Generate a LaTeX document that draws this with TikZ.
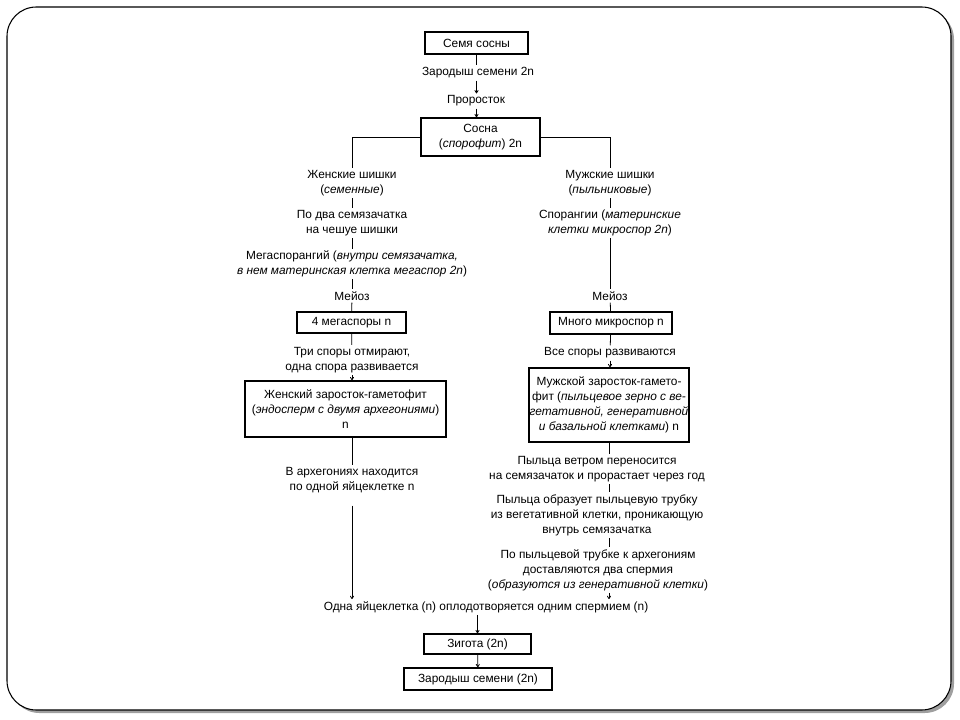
\documentclass[tikz,border=0pt]{standalone}
\usepackage{fontspec}
\setmainfont{Liberation Sans}
\usetikzlibrary{arrows.meta}
\begin{document}
\begin{tikzpicture}[x=0.75pt,y=-0.75pt,
  txt/.style={align=center, inner sep=1.5pt, font=\fontsize{8.9}{11.25}\selectfont},
  box/.style={draw, line width=1.1pt, align=center, inner sep=0.5pt, font=\fontsize{8.9}{11.25}\selectfont},
  ln/.style={line width=0.6pt},
  arr/.style={line width=0.6pt, -{To[length=2.5pt,width=3pt]}}]
\useasboundingbox (0,0) rectangle (960,720);
% frame with shadow
\fill[gray!75, rounded corners=22pt] (10,10) rectangle (954,713);
\draw[fill=white, line width=0.8pt, rounded corners=22pt] (7,7) rectangle (951,710);

% top
\node[box, minimum width=77.25pt, minimum height=16.5pt] (seed) at (476.5,43) {Семя сосны};
\node[txt] (emb) at (478,73) {Зародыш семени 2n};
\node[txt] (sprout) at (476,101) {Проросток};
\node[box, minimum width=89.25pt, minimum height=28.5pt] (pine) at (480.5,137) {Сосна\\(\textit{спорофит}) 2n};

% left branch
\node[txt] (fcone) at (352,183) {Женские шишки\\(\textit{семенные})};
\node[txt] (ovule) at (352,223) {По два семязачатка\\на чешуе шишки};
\node[txt] (mega) at (352,264) {Мегаспорангий (\textit{внутри семязачатка,}\\\textit{в нем материнская клетка мегаспор 2n})};
\node[txt] (meiosisL) at (352,296) {Мейоз};
\node[box, minimum width=81.75pt, minimum height=15.75pt] (fourmeg) at (351.5,322.5) {4 мегаспоры n};
\node[txt] (three) at (352,360) {Три споры отмирают,\\одна спора развивается};
\node[box, minimum width=150.75pt, minimum height=42pt] (fgam) at (345.5,409) {Женский заросток-гаметофит\\(\textit{эндосперм с двумя архегониями})\\n};
\node[txt] (arch) at (352,480) {В архегониях находится\\по одной яйцеклетке n};

% right branch
\node[txt] (mcone) at (610,183) {Мужские шишки\\(\textit{пыльниковые})};
\node[txt] (spor) at (610,223) {Спорангии (\textit{материнские}\\\textit{клетки микроспор 2n})};
\node[txt] (meiosisR) at (610,296) {Мейоз};
\node[box, minimum width=91.5pt, minimum height=16.5pt] (micro) at (611,323) {Много микроспор n};
\node[txt] (all) at (610,353) {Все споры развиваются};
\node[box, minimum width=115.5pt, minimum height=55.5pt] (mgam) at (609,405) {Мужской заросток-гамето-\\фит (\textit{пыльцевое зерно с ве-}\\\textit{гетативной, генеративной}\\\textit{и базальной клетками}) n};
\node[txt] (wind) at (597,469) {Пыльца ветром переносится\\на семязачаток и прорастает через год};
\node[txt] (tube) at (597,515) {Пыльца образует пыльцевую трубку\\из вегетативной клетки, проникающую\\внутрь семязачатка};
\node[txt] (sperm) at (598,570) {По пыльцевой трубке к архегониям\\доставляются два спермия\\(\textit{образуются из генеративной клетки})};

% bottom
\node[txt] (fert) at (486,607) {Одна яйцеклетка (n) оплодотворяется одним спермием (n)};
\node[box, minimum width=80.25pt, minimum height=15pt] (zyg) at (477.5,644) {Зигота (2n)};
\node[box, minimum width=111pt, minimum height=16.5pt] (embr) at (478,679) {Зародыш семени (2n)};

% connectors
\draw[ln] (seed) -- (seed |- emb.north);
\draw[arr] (seed |- emb.south) -- (seed |- sprout.north);
\draw[arr] (seed |- sprout.south) -- (seed |- pine.north);
\draw[ln] (pine.west) -| (fcone.north);
\draw[ln] (pine.east) -| (mcone.north);
\draw[ln] (fcone) -- (ovule);
\draw[ln] (ovule) -- (mega);
\draw[ln] (mega) -- (meiosisL);
\draw[ln] (meiosisL) -- (fourmeg);
\draw[ln] (fourmeg) -- (three);
\draw[arr] (three) -- (three.south |- fgam.north);
\draw[ln] (three.south |- fgam.south) -- (three.south |- arch.north);
\draw[arr, shorten <=8pt] (arch.south) -- (arch.south |- fert.north);
\draw[ln] (mcone) -- (spor);
\draw[ln] (spor) -- (meiosisR);
\draw[ln] (meiosisR) -- (micro);
\draw[ln] (micro) -- (all);
\draw[arr] (all) -- (all.south |- mgam.north);
\draw[ln] (mgam) -- (wind.north -| mgam);
\draw[ln] (wind.south -| mgam) -- (tube.north -| mgam);
\draw[ln] (tube.south -| mgam) -- (sperm.north -| mgam);
\draw[arr] (sperm.south -| mgam) -- (fert.north -| mgam);
\draw[arr] (fert.south -| zyg) -- (zyg);
\draw[arr] (zyg) -- (embr);
\end{tikzpicture}
\end{document}
